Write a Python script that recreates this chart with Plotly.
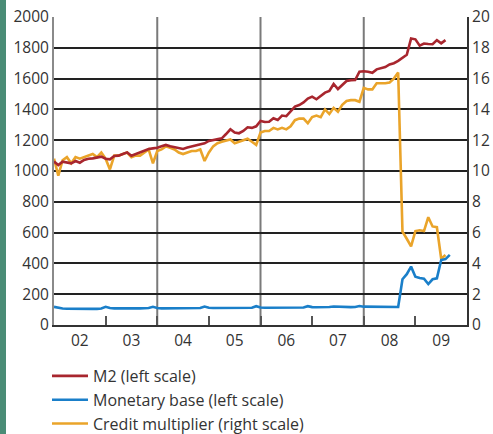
import plotly.graph_objects as go

# Monthly data, Jan 2002 onwards
START_YEAR = 2002
m2 = [1061,1039,1061,1055,1050,1065,1054,1072,1080,1082,1088,1093,
      1080,1076,1097,1100,1110,1121,1099,1110,1121,1132,1143,1147,
      1151,1160,1169,1160,1155,1148,1143,1152,1160,1169,1175,1180,
      1195,1200,1205,1212,1240,1271,1250,1245,1260,1284,1280,1290,
      1325,1318,1320,1342,1331,1360,1356,1385,1418,1428,1445,1470,
      1483,1466,1490,1509,1520,1565,1532,1560,1584,1590,1591,1645,
      1648,1645,1638,1660,1668,1675,1692,1700,1715,1735,1755,1860,
      1855,1814,1828,1825,1823,1850,1829,1850]
monetary_base = [118,110,107,106,105,105,105,104,105,105,105,107,
                 118,110,108,107,107,107,108,108,108,109,110,118,
                 110,108,108,107,107,108,108,108,109,110,110,120,
                 112,110,110,110,111,111,111,111,112,112,112,122,
                 114,112,112,112,113,113,113,113,114,114,114,122,
                 116,115,115,115,117,120,118,117,116,116,117,123,
                 119,119,118,118,118,118,118,117,117,297,330,379,
                 314,305,300,266,297,303,422,428,455]
credit_multiplier = [10.8,9.7,10.7,10.9,10.5,10.9,10.8,10.9,11.0,11.1,10.9,11.2,
                     10.8,10.1,11.0,11.0,11.1,11.2,10.9,11.0,11.0,11.2,11.4,10.5,
                     11.3,11.4,11.6,11.5,11.4,11.2,11.1,11.2,11.3,11.3,11.4,10.65,
                     11.2,11.6,11.8,11.9,12.0,12.05,11.8,11.9,12.0,12.1,11.9,11.7,
                     12.5,12.6,12.6,12.8,12.7,12.8,12.7,12.9,13.3,13.4,13.4,13.1,
                     13.5,13.6,13.5,14.0,13.7,14.1,13.85,14.3,14.55,14.6,14.6,14.5,
                     15.4,15.3,15.3,15.7,15.7,15.7,15.75,16.0,16.4,6.06,5.6,5.1,
                     6.1,6.15,6.1,7.0,6.4,6.35,4.3,4.55]

year_labels = ["02", "03", "04", "05", "06", "07", "08", "09"]
label_pos = [2002.5 + i for i in range(len(year_labels))]
year_ticks = [2003, 2004, 2005, 2006, 2007, 2008, 2009]
grid_years = [2004, 2006, 2008]

def xs(n):
    return [START_YEAR + i / 12 for i in range(n)]

RED = "#a8262e"
BLUE = "#1a7fc9"
ORANGE = "#eaa42a"
FONT = "Open Sans"
TXT = "#333333"
FS = 15.5
LFS = 16

fig = go.Figure()
fig.add_trace(go.Scatter(x=xs(len(credit_multiplier)), y=credit_multiplier, mode="lines",
                         name="Credit multiplier (right scale)", line=dict(color=ORANGE, width=2.6),
                         yaxis="y", legendrank=3, legendgroup="c"))
fig.add_trace(go.Scatter(x=xs(len(m2)), y=m2, mode="lines", name="M2 (left scale)",
                         line=dict(color=RED, width=2.6), yaxis="y2", legendrank=1, legendgroup="a"))
fig.add_trace(go.Scatter(x=xs(len(monetary_base)), y=monetary_base, mode="lines",
                         name="Monetary base (left scale)", line=dict(color=BLUE, width=2.6),
                         yaxis="y2", legendrank=2, legendgroup="b"))

shapes = [dict(type="line", xref="x", yref="paper", x0=g, x1=g, y0=0, y1=1,
               line=dict(color="#7a7a7a", width=2), layer="below") for g in grid_years]
# green side bar
shapes.append(dict(type="rect", xref="paper", yref="paper", x0=-54/413, x1=-48/413,
                   y0=-0.5, y1=1.2, fillcolor="#4a8c76", line=dict(width=0), layer="below"))

fig.update_layout(
    width=493, height=434,
    margin=dict(l=54, r=26, t=17, b=109, autoexpand=False),
    paper_bgcolor="white", plot_bgcolor="white",
    font=dict(family=FONT, size=FS, color=TXT),
    shapes=shapes,
    xaxis=dict(range=[2002, 2010], tickmode="array", tickvals=label_pos, ticktext=year_labels,
               ticks="", showgrid=False, zeroline=False, showline=True, linecolor="#333333",
               linewidth=2, tickfont=dict(size=FS, color=TXT), automargin=False,
               minor=dict(tickmode="array", tickvals=year_ticks, ticks="inside", ticklen=9,
                          tickcolor="#555555", tickwidth=1.5, showgrid=False)),
    yaxis=dict(range=[0, 20], dtick=2, side="right", showgrid=True, gridcolor="#222222",
               gridwidth=1.5, zeroline=False, showline=True, linecolor="#333333", linewidth=2,
               ticks="", tickfont=dict(size=FS, color=TXT), automargin=False),
    yaxis2=dict(range=[0, 2000], dtick=200, side="left", overlaying="y", showgrid=False,
                zeroline=False, showline=True, linecolor="#8a8a8a", linewidth=2, ticks="",
                tickfont=dict(size=FS, color=TXT), automargin=False),
    legend=dict(xref="container", yref="container", x=47/493, y=1 - 359/434,
                xanchor="left", yanchor="top", orientation="v", itemwidth=36,
                font=dict(size=LFS, color=TXT), tracegroupgap=0, bgcolor="rgba(0,0,0,0)"),
    showlegend=True,
)

fig.write_html("out.html", config={"displayModeBar": False},
               post_script="document.body.style.margin='0px';")
